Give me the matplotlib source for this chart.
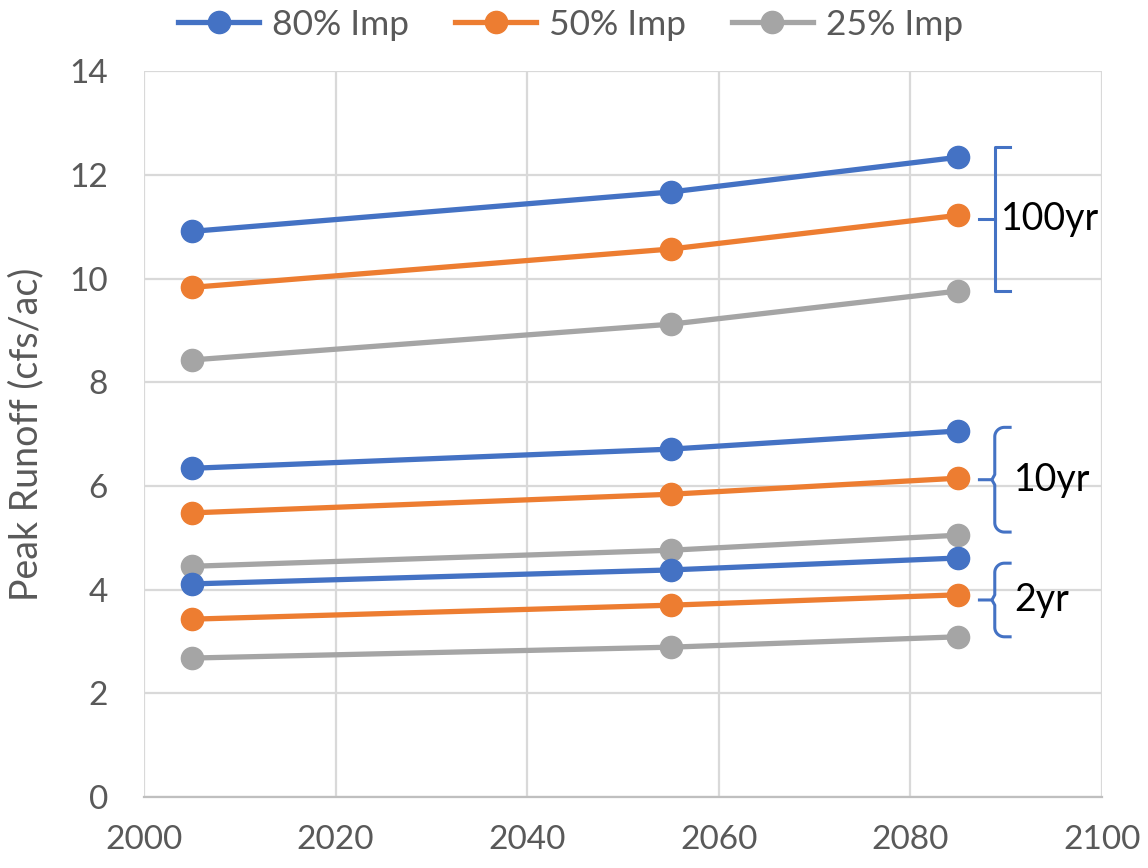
import numpy as np
import matplotlib.pyplot as plt

# Data
years = [2005, 2055, 2085]
series = ['80% Imp', '50% Imp', '25% Imp']
colors = ['#4472C4', '#ED7D31', '#A5A5A5']

runoff_100yr = [[10.91, 11.67, 12.34],
                [9.83, 10.57, 11.22],
                [8.43, 9.12, 9.76]]
runoff_10yr = [[6.34, 6.71, 7.06],
               [5.48, 5.84, 6.15],
               [4.45, 4.76, 5.05]]
runoff_2yr = [[4.11, 4.38, 4.61],
              [3.43, 3.70, 3.90],
              [2.68, 2.89, 3.09]]

storms = ['100yr', '10yr', '2yr']
storm_data = [runoff_100yr, runoff_10yr, runoff_2yr]

plt.rcParams['font.family'] = ['Lato', 'DejaVu Sans']
text_grey = '#595959'

fig = plt.figure(figsize=(11.48, 8.68), dpi=100)
ax = fig.add_axes([0.1254, 0.0818, 0.8346, 0.8362])

for storm, data in zip(storms, storm_data):
    for name, vals, c in zip(series, data, colors):
        ax.plot(years, vals, color=c, lw=3.8, marker='o', markersize=16,
                label=name if storm == '100yr' else None, zorder=3)

ax.set_xlim(2000, 2100)
ax.set_ylim(0, 14)
ax.set_xticks(np.arange(2000, 2101, 20))
ax.set_yticks(np.arange(0, 15, 2))
ax.grid(True, color='#D9D9D9', lw=1.6)
ax.set_axisbelow(True)
for s in ['top', 'right', 'left']:
    ax.spines[s].set_visible(False)
ax.spines['bottom'].set_color('#BFBFBF')
ax.spines['bottom'].set_linewidth(1.6)
ax.tick_params(length=0, labelsize=24, colors=text_grey)
ax.tick_params(axis='x', pad=20)
ax.tick_params(axis='y', pad=26)
ax.set_ylabel('Peak Runoff (cfs/ac)', fontsize=27, color=text_grey, labelpad=18)

leg = ax.legend(loc='lower center', bbox_to_anchor=(0.445, 1.02), ncol=3, frameon=False,
                fontsize=25.5, handlelength=2.3, columnspacing=1.3, handletextpad=0.35,
                borderaxespad=0.05, labelcolor=text_grey)

# Brackets marking each storm group: (label, y low, y high, square?)
bracket_x = 2088.8
brackets = [('100yr', 9.76, 12.53, True),
            ('10yr', 5.11, 7.13, False),
            ('2yr', 3.09, 4.51, False)]
bc = '#4472C4'
arm = 1.6
for label, lo, hi, square in brackets:
    mid = (lo + hi) / 2
    if square:
        ax.plot([bracket_x + arm, bracket_x, bracket_x, bracket_x + arm], [hi, hi, lo, lo],
                color=bc, lw=2.2, clip_on=False)
        ax.plot([bracket_x - arm, bracket_x], [mid, mid], color=bc, lw=2.2, clip_on=False)
        ax.text(bracket_x + 0.6, mid, label, fontsize=27, va='center', ha='left', color='black')
    else:
        # curly brace: rounded corners at the ends and a small point in the middle
        t = np.linspace(0, np.pi / 2, 15)
        rx, ry = 1.0, 0.18
        corner_x = bracket_x + rx * (1 - np.cos(t))
        top_y = hi - ry * (1 - np.sin(t))
        bot_y = lo + ry * (1 - np.sin(t))
        ax.plot(np.concatenate([[bracket_x + arm], corner_x[::-1], [bracket_x, bracket_x - 0.3, bracket_x - arm]]),
                np.concatenate([[hi], top_y[::-1], [mid + 0.1, mid, mid]]),
                color=bc, lw=2.2, clip_on=False)
        ax.plot(np.concatenate([[bracket_x + arm], corner_x[::-1], [bracket_x, bracket_x - 0.3]]),
                np.concatenate([[lo], bot_y[::-1], [mid - 0.1, mid]]),
                color=bc, lw=2.2, clip_on=False)
        ax.text(bracket_x + 2.0, mid, label, fontsize=27, va='center', ha='left', color='black')

fig.savefig('out.png', dpi=100)
